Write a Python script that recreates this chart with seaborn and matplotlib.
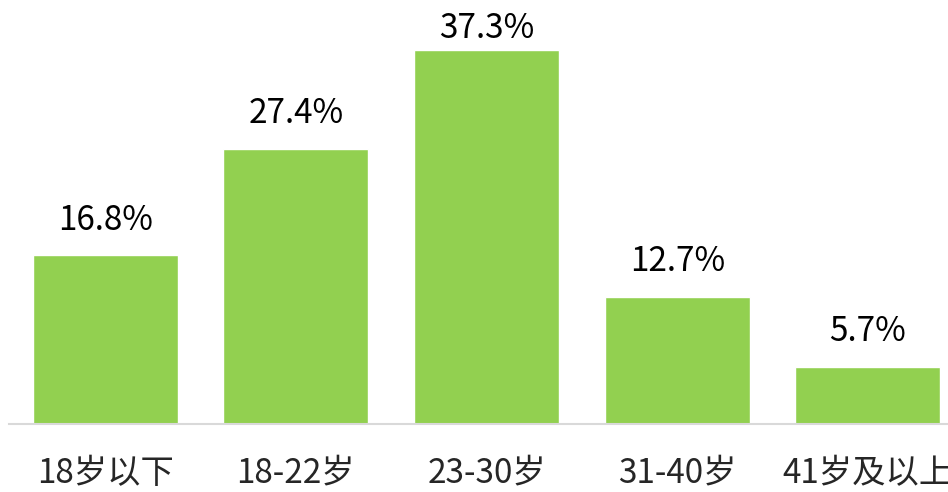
import matplotlib
matplotlib.use('Agg')
import matplotlib.pyplot as plt
import seaborn as sns
import pandas as pd

age_groups = ['18岁以下', '18-22岁', '23-30岁', '31-40岁', '41岁及以上']
shares = [16.8, 27.4, 37.3, 12.7, 5.7]

df = pd.DataFrame({'age': age_groups, 'share': shares})

sns.set_style('white')
plt.rcParams['font.family'] = ['Noto Sans CJK SC', 'DejaVu Sans']

fig = plt.figure(figsize=(9.48, 4.92), dpi=100)
ax = fig.add_axes([9 / 948, 68 / 492, 939 / 948, 424 / 492])

sns.barplot(data=df, x='age', y='share', color='#92D050', saturation=1,
            width=0.76, ax=ax)

# value labels above bars; the tallest one is squeezed against the top edge
for i, v in enumerate(shares):
    off = 8.6 if v == max(shares) else 18.7
    ax.annotate(f'{v}%', (i, v), xytext=(0, off), textcoords='offset points',
                ha='center', va='baseline', fontsize=24, color='black')

ax.set_xlim(-0.504, 4.42)
ax.set_ylim(0, 42.27)
ax.set_yticks([])
ax.set_xlabel('')
ax.set_ylabel('')
for s in ['top', 'right', 'left']:
    ax.spines[s].set_visible(False)
ax.spines['bottom'].set_color('#D9D9D9')
ax.spines['bottom'].set_linewidth(1.5)
ax.tick_params(axis='x', length=0, pad=23, labelsize=24)

fig.savefig('out.png', dpi=100)
